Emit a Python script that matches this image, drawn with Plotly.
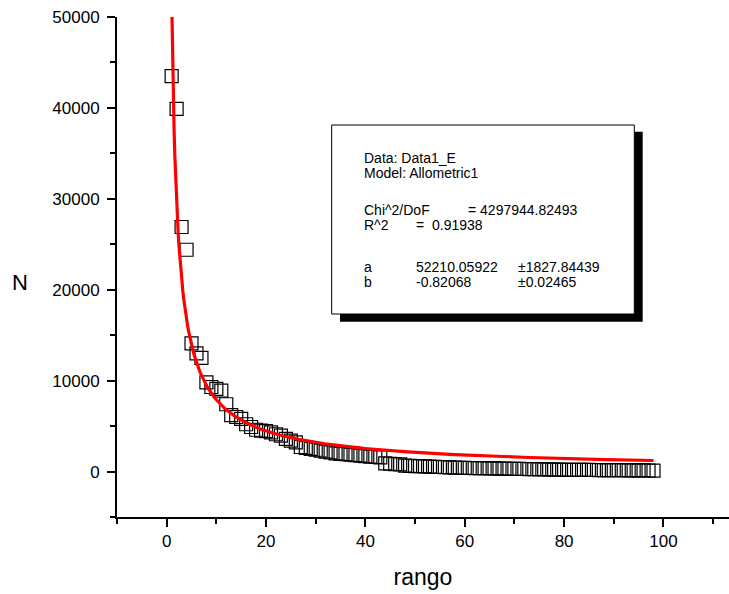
import numpy as np
import plotly.graph_objects as go

# ---- data ----
rank = list(range(1, 99))
counts = [
    43500, 39900, 26900, 24400, 14100, 13000, 12500, 9800, 9300, 9100,
    8900, 7400, 6200, 6000, 5800, 5200, 4900, 4600, 4500, 4450,
    4300, 4100, 3950, 3600, 3400, 3200, 2700, 2600, 2500, 2400,
    2300, 2200, 2100, 2000, 1950, 1900, 1850, 1800, 1750, 1700,
    1650, 1600, 1550, 900, 860, 820, 780, 650, 620, 600,
    580, 560, 540, 520, 500, 480, 460, 440, 420, 400,
    390, 380, 370, 360, 350, 340, 330, 320, 310, 300,
    290, 280, 270, 260, 250, 240, 230, 220, 210, 200,
    195, 190, 185, 180, 175, 170, 165, 160, 155, 150,
    145, 140, 135, 130, 125, 120, 115, 110,
]

# Allometric1 fit parameters shown in the chart: y = a * x^b
fit_a = 52210.05922
fit_b = -0.82068
fit_x = np.linspace(1, 98, 600)
fit_y = fit_a * fit_x ** fit_b

box_left = ["Data: Data1_E", "Model: Allometric1", "Chi^2/DoF", "R^2", "a", "b"]
x_ticks = [0, 20, 40, 60, 80, 100]
y_ticks = [0, 10000, 20000, 30000, 40000, 50000]

FONT = "Arial, Liberation Sans, sans-serif"
W, H = 729, 594
ML, MR, MT, MB = 117, 0, 17, 77
PW, PH = W - ML - MR, H - MT - MB


def px(x):
    return (x - ML) / PW


def py(y):
    return (H - MB - y) / PH


fig = go.Figure()
fig.add_trace(go.Scatter(
    x=rank, y=counts, mode="markers",
    marker=dict(symbol="square-open", size=13, color="black", line=dict(width=1.2, color="black")),
    cliponaxis=False, showlegend=False,
))
fig.add_trace(go.Scatter(
    x=fit_x, y=fit_y, mode="lines",
    line=dict(color="#ff0000", width=3.2), showlegend=False,
))

axis_common = dict(
    showline=True, linecolor="black", linewidth=2,
    ticks="outside", ticklen=8, tickwidth=2, tickcolor="black",
    showgrid=False, zeroline=False, tickformat="d",
    tickfont=dict(family=FONT, size=17, color="black"),
)
fig.update_xaxes(
    range=[-10, 113.2], tickvals=x_ticks,
    minor=dict(tickvals=[-10, 10, 30, 50, 70, 90, 110], ticklen=5, tickwidth=2,
               tickcolor="black", ticks="outside"),
    title=dict(text="rango", font=dict(family=FONT, size=23, color="black"), standoff=18),
    **axis_common,
)
fig.update_yaxes(
    range=[-5000, 50000], tickvals=y_ticks, ticklabelstandoff=4,
    minor=dict(tickvals=[-5000, 5000, 15000, 25000, 35000, 45000], ticklen=5, tickwidth=2,
               tickcolor="black", ticks="outside"),
    **axis_common,
)

shapes = [
    dict(type="rect", xref="paper", yref="paper",
         x0=px(340), x1=px(642.7), y0=py(321.7), y1=py(131.7),
         fillcolor="black", line=dict(width=0)),
    dict(type="rect", xref="paper", yref="paper",
         x0=px(331.7), x1=px(634.3), y0=py(314), y1=py(125),
         fillcolor="white", line=dict(color="black", width=1)),
]

rows_y = [158.3, 173.3, 210, 225, 266.7, 281.7]
ann = []
for t, yy in zip(box_left, rows_y):
    ann.append(dict(text=t, x=px(361.7), y=py(yy)))
ann.append(dict(text="= 4297944.82493", x=px(465.7), y=py(rows_y[2])))
ann.append(dict(text="=  0.91938", x=px(414), y=py(rows_y[3])))
ann.append(dict(text="52210.05922", x=px(414), y=py(rows_y[4])))
ann.append(dict(text="±1827.84439", x=px(516), y=py(rows_y[4])))
ann.append(dict(text="-0.82068", x=px(414), y=py(rows_y[5])))
ann.append(dict(text="±0.02465", x=px(516), y=py(rows_y[5])))
for a in ann:
    a.update(xref="paper", yref="paper", xanchor="left", yanchor="middle",
             showarrow=False, font=dict(family=FONT, size=14, color="black"))

# horizontal y-axis title, as in the reference
ann.append(dict(text="N", xref="paper", yref="paper", x=px(20), y=py(282),
                xanchor="center", yanchor="middle", showarrow=False,
                font=dict(family=FONT, size=22, color="black")))

fig.update_layout(
    width=W, height=H,
    margin=dict(l=ML, r=MR, t=MT, b=MB, autoexpand=False),
    paper_bgcolor="white", plot_bgcolor="white",
    shapes=shapes, annotations=ann,
)
fig.write_html("out.html")
